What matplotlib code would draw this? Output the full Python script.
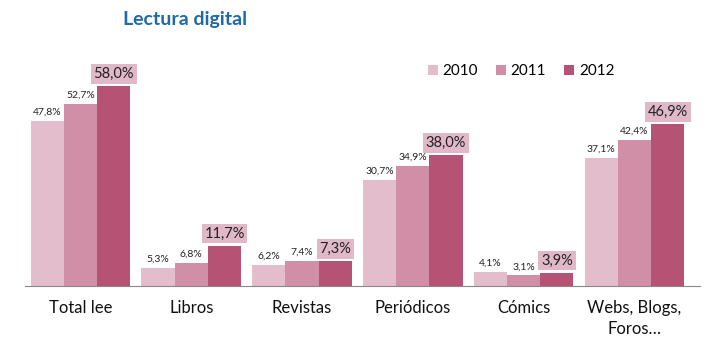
import numpy as np
import matplotlib.pyplot as plt

categories = ["Total lee", "Libros", "Revistas", "Periódicos", "Cómics", "Webs, Blogs,\nForos…"]
years = ["2010", "2011", "2012"]
v2010 = [47.8, 5.3, 6.2, 30.7, 4.1, 37.1]
v2011 = [52.7, 6.8, 7.4, 34.9, 3.1, 42.4]
v2012 = [58.0, 11.7, 7.3, 38.0, 3.9, 46.9]

colors = ["#e3bdcb", "#d08fa7", "#b65274"]
box_color = "#e0b8c7"

plt.rcParams['font.family'] = ['Lato', 'DejaVu Sans']

fig = plt.figure(figsize=(7.17, 3.55), dpi=100)
ax = fig.add_axes([0.035, 0.194, 0.941, 0.693])

x = np.arange(len(categories))
w = 0.30
series = [v2010, v2011, v2012]
for i, (vals, c, yr) in enumerate(zip(series, colors, years)):
    xs = x + (i - 1) * w
    ax.bar(xs, vals, width=w, color=c, label=yr, linewidth=0)
    for xi, v in zip(xs, vals):
        txt = f"{v:.1f}%".replace(".", ",")
        if i < 2:
            ax.text(xi, v + 1.2, txt, ha="center", va="bottom", fontsize=7.5, color="#222222")
        else:
            ax.text(xi, v + 1.5, txt, ha="center", va="bottom", fontsize=10.5, color="#222222",
                    bbox=dict(facecolor=box_color, edgecolor="none", pad=2))

ax.set_xlim(-0.5, 5.59)
ax.set_ylim(0, 71.3)
ax.set_xticks(x)
ax.set_xticklabels(categories, fontsize=12, color="#111111", linespacing=1.35, va="top")
ax.tick_params(axis="x", length=0, pad=10)
ax.set_yticks([])
for s in ["top", "right", "left"]:
    ax.spines[s].set_visible(False)
ax.spines["bottom"].set_color("#888888")

ax.legend(loc="center", bbox_to_anchor=(521 / 717, 1 - 71 / 355), bbox_transform=fig.transFigure,
          ncol=3, frameon=False, fontsize=11, handlelength=0.65, handleheight=0.65,
          handletextpad=0.3, columnspacing=1.2)

fig.text(0.258, 0.945, "Lectura digital", ha="center", va="center", fontsize=14,
         fontweight="bold", color="#1f6aa8")

fig.savefig("out.png", dpi=100)
